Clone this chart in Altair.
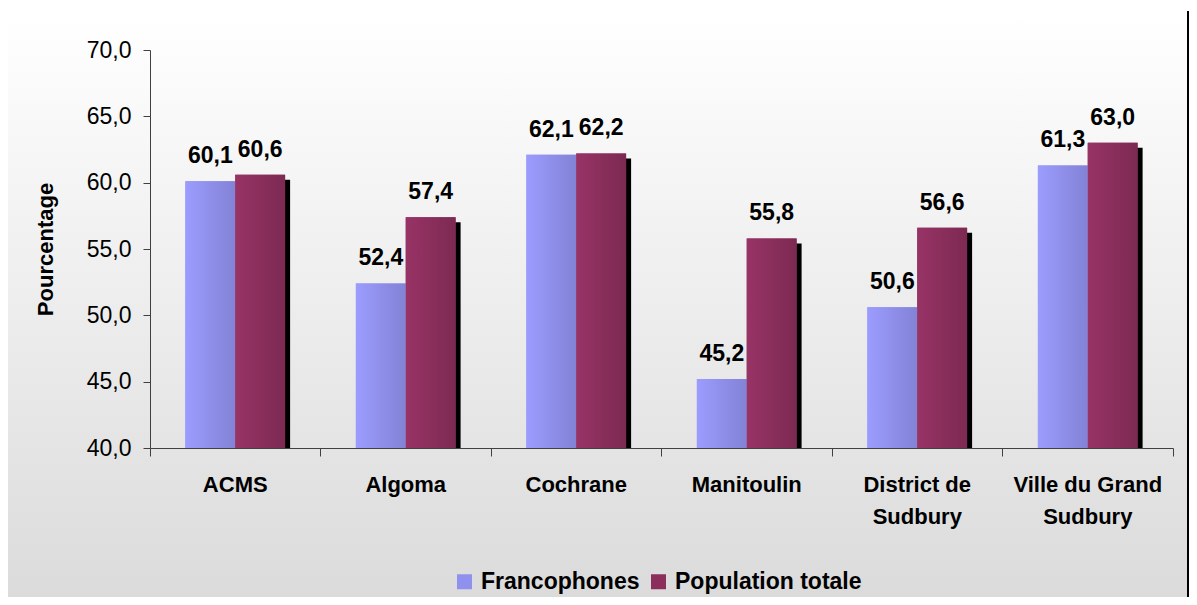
import altair as alt
import pandas as pd

categories = ["ACMS", "Algoma", "Cochrane", "Manitoulin", "District de|Sudbury", "Ville du Grand|Sudbury"]
series_names = ["Francophones", "Population totale"]
francophones = [60.1, 52.4, 62.1, 45.2, 50.6, 61.3]
population_totale = [60.6, 57.4, 62.2, 55.8, 56.6, 63.0]
y_ticks = [40, 45, 50, 55, 60, 65, 70]

rows = []
for c, f, p in zip(categories, francophones, population_totale):
    rows.append({"region": c, "serie": series_names[0], "valeur": f})
    rows.append({"region": c, "serie": series_names[1], "valeur": p})
df = pd.DataFrame(rows)

FONT = "Liberation Sans"
W, H = 1023, 398
OUTER = 0.71
STEP = W / len(categories) / (2 + 2 * OUTER)

grad_f = {"gradient": "linear", "x1": 0, "y1": 0, "x2": 1, "y2": 0,
          "stops": [{"offset": 0, "color": "#9c9cff"}, {"offset": 1, "color": "#8282d6"}]}
grad_p = {"gradient": "linear", "x1": 0, "y1": 0, "x2": 1, "y2": 0,
          "stops": [{"offset": 0, "color": "#983366"}, {"offset": 1, "color": "#7c2a52"}]}
grad_bg = {"gradient": "linear", "x1": 0, "y1": 0, "x2": 0, "y2": 1,
           "stops": [{"offset": 0, "color": "#ffffff"}, {"offset": 1, "color": "#dadada"}]}

x_enc = alt.X(
    "region:N", sort=categories, title=None,
    scale=alt.Scale(paddingInner=0, paddingOuter=0),
    axis=alt.Axis(labelAngle=0, labelFont=FONT, labelFontSize=22, labelFontWeight="bold",
                  labelColor="#000000", labelPadding=18, labelLineHeight=32,
                  labelExpr="split(datum.label, '|')", bandPosition=1, tickExtra=True,
                  tickSize=8, tickColor="#404040", domainColor="#404040", labelBaseline="top",
                  labelLimit=0, zindex=1),
)
xo_enc = alt.XOffset("serie:N", sort=series_names,
                     scale=alt.Scale(paddingInner=0, paddingOuter=OUTER))
y_enc = alt.Y(
    "valeur:Q", title="Pourcentage",
    scale=alt.Scale(domain=[40, 70], nice=False, zero=False),
    axis=alt.Axis(values=y_ticks, labelExpr="replace(format(datum.value, '.1f'), '.', ',')",
                  labelFont=FONT, labelFontSize=23, labelColor="#000000", labelPadding=12,
                  tickSize=7, tickColor="#404040", domainColor="#404040", grid=False,
                  titleFont=FONT, titleFontSize=22, titleFontWeight="bold", titleColor="#000000",
                  titlePadding=29, zindex=1),
)

base = alt.Chart(df).encode(x=x_enc, xOffset=xo_enc, y=y_enc, y2=alt.datum(40))

one = pd.DataFrame({"k": [0]})
background = alt.Chart(one).mark_rect(fill=grad_bg).encode(
    x=alt.value(-142), x2=alt.value(1037), y=alt.value(-36), y2=alt.value(560)
)
border = alt.Chart(one).mark_rule(color="#000000", strokeWidth=2).encode(
    x=alt.value(1038), y=alt.value(-39), y2=alt.value(560)
)

shadow = alt.Chart(df).transform_filter(alt.datum.serie == series_names[1]).mark_bar(
    color="#000000", width={"band": 1 / (2 + 2 * OUTER)}, xOffset=STEP / 2 + 5, yOffset=5,
    clip=True,
).encode(x=x_enc, y=y_enc, y2=alt.datum(40))

solid = base.mark_bar().encode(
    color=alt.Color(
        "serie:N", sort=series_names,
        scale=alt.Scale(domain=series_names, range=["#9090ee", "#8c2e5c"]),
        legend=alt.Legend(title=None, orient="none", legendX=303, legendY=520,
                          direction="horizontal", padding=0,
                          symbolType="square", symbolSize=225, symbolStrokeWidth=0,
                          labelFont=FONT, labelFontSize=23, labelFontWeight="bold",
                          labelLimit=0, labelColor="#000000", columnPadding=7, labelOffset=5),
    )
)

bar_f = base.transform_filter(alt.datum.serie == series_names[0]).mark_bar(fill=grad_f)
bar_p = base.transform_filter(alt.datum.serie == series_names[1]).mark_bar(fill=grad_p)

text = alt.Chart(df).transform_calculate(
    lab="replace(format(datum.valeur, '.1f'), '.', ',')"
).mark_text(font=FONT, fontSize=23, fontWeight="bold", baseline="alphabetic", dy=-18,
            color="#000000").encode(x=x_enc, xOffset=xo_enc, y=y_enc, text="lab:N")

chart = alt.layer(background, border, shadow, solid, bar_f, bar_p, text).properties(
    width=W, height=H,
    autosize=alt.AutoSizeParams(type="none"),
    padding={"left": 142, "top": 42, "right": 16, "bottom": 149},
).configure_view(stroke=None).configure(background="#ffffff")

chart.save("out.html", embed_options={"renderer": "svg", "actions": False})
